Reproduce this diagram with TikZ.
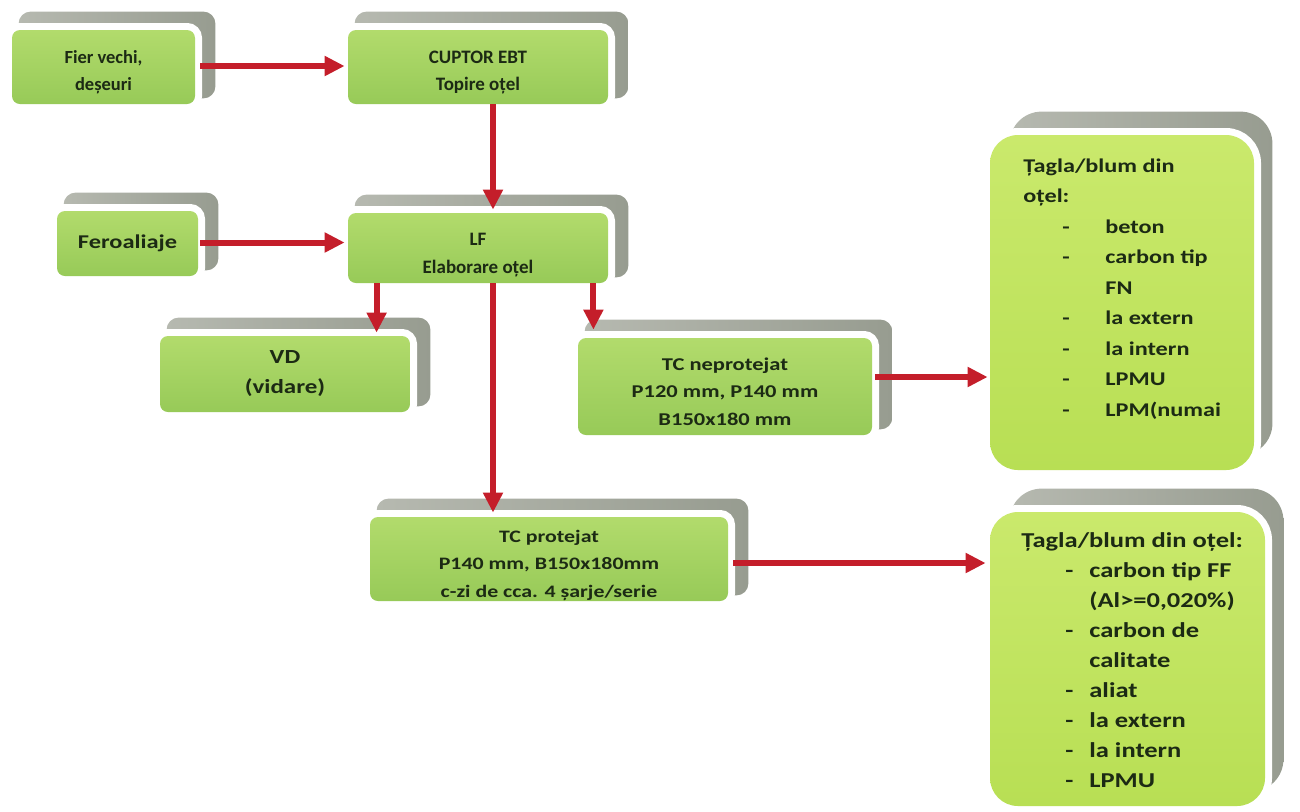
\documentclass[tikz,border=0pt]{standalone}
\usepackage{fontspec}
\setmainfont{Carlito}
\newfontfamily\widefont{Carlito}[FakeStretch=1.25]
\usetikzlibrary{calc,backgrounds,arrows.meta}
\definecolor{gtop}{HTML}{B2DB6C}
\definecolor{gbot}{HTML}{97CA58}
\definecolor{rtop}{HTML}{CAE96C}
\definecolor{rbot}{HTML}{B8DF54}
\definecolor{shl}{HTML}{B6B9B0}
\definecolor{shr}{HTML}{979C90}
\definecolor{arr}{HTML}{C41E2A}
\definecolor{txt}{HTML}{1C2A14}
\tikzset{
  box/.style={rounded corners=4pt, preaction={draw=white, line width=7pt},
    top color=gtop, bottom color=gbot, draw=none, align=center, text=txt,
    font=\bfseries\fontsize{9.5}{13.5}\selectfont, inner sep=0pt},
  widetext/.style={font=\widefont\bfseries\fontsize{#1}{13.75}\selectfont},
  bigbox/.style={box, rounded corners=14pt, top color=rtop, bottom color=rbot},
  rtext/.style={align=left, text=txt, inner sep=0pt, anchor=north west},
  flow/.style={draw=arr, line width=3pt, -{Triangle[length=10pt,width=9.5pt]}},
  shad/.style={left color=shl, right color=shr, rounded corners=6pt},
}
\newcommand{\itm}[2]{\hspace*{#1}\makebox[#2][l]{-}}
\newcommand{\lw}[1]{\rule{0pt}{#1}}
\begin{document}
\begin{tikzpicture}[x=0.5pt,y=-0.5pt]
\useasboundingbox (0,0) rectangle (1300,811);
% boxes
\node[box, minimum width=91.5pt, minimum height=37pt, font=\bfseries\fontsize{9.25}{13.5}\selectfont] (A) at (103.5,67) {\lw{11.5pt}Fier vechi,\\deșeuri};
\node[box, minimum width=130pt, minimum height=37pt] (B) at (478,67) {\lw{12pt}CUPTOR EBT\\Topire oțel};
\node[box, minimum width=70.5pt, minimum height=32.5pt, widetext=9.75] (C) at (127.5,243.5) {Feroaliaje};
\node[box, minimum width=130pt, minimum height=35pt, font=\bfseries\fontsize{9.5}{14}\selectfont] (D) at (478,248) {\lw{13pt}LF\\Elaborare oțel};
\node[box, minimum width=125pt, minimum height=38pt, font=\widefont\bfseries\fontsize{10}{15}\selectfont] (E) at (285,374) {VD\\(vidare)};
\node[box, minimum width=147pt, minimum height=48.5pt, widetext=9] (F) at (725,386.5) {\lw{11.5pt}TC neprotejat\\P120 mm, P140 mm\\B150x180 mm};
\node[box, minimum width=179pt, minimum height=42pt, widetext=8.75] (G) at (549,559) {\lw{12.5pt}TC protejat\\P140 mm, B150x180mm\\c-zi de cca. 4 șarje/serie};
\node[bigbox, minimum width=132pt, minimum height=167.5pt] (H) at (1122,302.5) {};
\node[bigbox, minimum width=137.5pt, minimum height=147pt] (I) at (1127.5,659) {};
\node[rtext, font=\widefont\bfseries\fontsize{9.7}{15.25}\selectfont] (Ht) at (1023,158) {Țagla/blum din\\oțel:\\\itm{19.5pt}{21.5pt}beton\\\itm{19.5pt}{21.5pt}carbon tip\\\hspace*{41pt}FN\\\itm{19.5pt}{21.5pt}la extern\\\itm{19.5pt}{21.5pt}la intern\\\itm{19.5pt}{21.5pt}LPMU\\\itm{19.5pt}{21.5pt}LPM(numai};
\node[rtext, font=\widefont\bfseries\fontsize{10.6}{15}\selectfont] (It) at (1021,532) {Țagla/blum din oțel:\\\itm{22pt}{12pt}carbon tip FF\\\hspace*{34pt}(Al>=0,020\%)\\\itm{22pt}{12pt}carbon de\\\hspace*{34pt}calitate\\\itm{22pt}{12pt}aliat\\\itm{22pt}{12pt}la extern\\\itm{22pt}{12pt}la intern\\\itm{22pt}{12pt}LPMU};
% shadows
\begin{scope}[on background layer]
\foreach \n in {A,B,C,D,E,F,G}{
  \shade[shad] ($(\n.north west)+(7,-18)$) rectangle ($(\n.south east)+(20,-6)$);
}
\foreach \n in {H,I}{
  \shade[shad, rounded corners=16pt] ($(\n.north west)+(20,-23)$) rectangle ($(\n.south east)+(18,-15)$);
}
\end{scope}
% connectors
\draw[flow] ($(A.east)+(5,-1)$) -- ($(A.east -| B.west)+(-3,-1)$);
\draw[flow] ($(B.south)+(15,0)$) -- ($(D.north)+(15,-3)$);
\draw[flow] ($(C.east)+(2,-1)$) -- ($(C.east -| D.west)+(-3,-1)$);
\draw[flow] ($(D.south west)+(29,0)$) -- ($(E.north -| D.south west)+(29,-3)$);
\draw[flow] ($(D.south)+(15,0)$) -- ($(G.north -| D.south)+(15,-4)$);
\draw[flow] ($(D.south east)+(-15,0)$) -- ($(F.north -| D.south east)+(-15,-8)$);
\draw[flow] ($(F.east)+(3,-9.5)$) -- ($(F.east -| H.west)+(-2,-9.5)$);
\draw[flow] ($(G.east)+(5,4)$) -- ($(G.east -| I.west)+(-4,4)$);
\end{tikzpicture}
\end{document}
